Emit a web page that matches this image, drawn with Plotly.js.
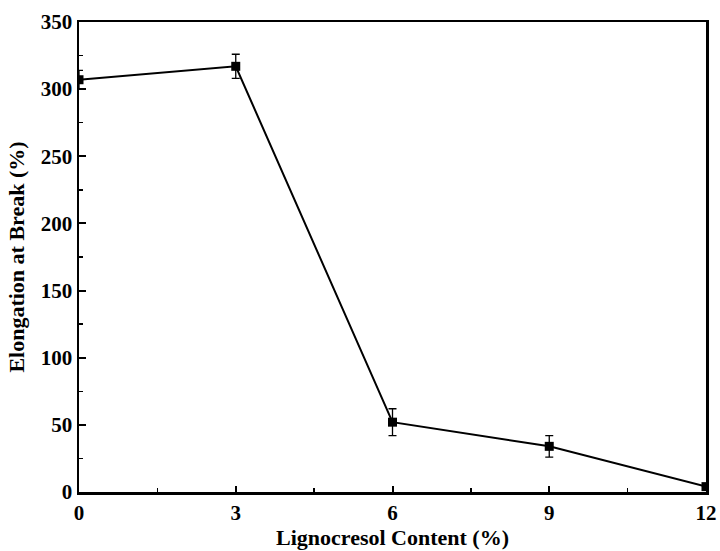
<!DOCTYPE html>
<html>
<head>
<meta charset="utf-8">
<script src="https://cdn.plot.ly/plotly-3.0.1.min.js"></script>
<style>html,body{margin:0;padding:0;background:#fff;}#chart{width:720px;height:551px;}</style>
</head>
<body>
<div id="chart"></div>
<script>
const content = [0, 3, 6, 9, 12];
const elongation = [307, 317, 52, 34, 4];
const errors = [7, 9, 10, 8, 0];
const xTicks = [0, 3, 6, 9, 12];
const yTicks = [0, 50, 100, 150, 200, 250, 300, 350];

const fontFam = '"Liberation Serif", "Times New Roman", serif';

const trace = {
  x: content, y: elongation,
  type: 'scatter', mode: 'lines+markers',
  line: {color: '#000', width: 2},
  marker: {symbol: 'square', size: 9, color: '#000'},
  error_y: {type: 'data', array: errors, visible: true, color: '#000', thickness: 1.3, width: 4},
  showlegend: false
};

const layout = {
  width: 720, height: 551,
  margin: {l: 78.5, r: 13.5, t: 22, b: 59},
  paper_bgcolor: '#fff', plot_bgcolor: '#fff',
  font: {family: fontFam, color: '#000'},
  xaxis: {
    range: [0, 12], tickvals: xTicks, ticktext: xTicks.map(String),
    ticks: 'inside', ticklen: 6, tickwidth: 2, tickcolor: '#000',
    minor: {tickvals: [1.5, 4.5, 7.5, 10.5], ticks: 'inside', ticklen: 4, tickwidth: 1.5, tickcolor: '#000'},
    showline: true, linewidth: 2.5, linecolor: '#000', mirror: true,
    showgrid: false, zeroline: false,
    tickfont: {family: fontFam, size: 21, weight: 'bold'},
    title: {text: '<b>Lignocresol Content (%)</b>', font: {family: fontFam, size: 22}, standoff: 1}
  },
  yaxis: {
    range: [0, 350], tickvals: yTicks, ticktext: yTicks.map(String),
    ticks: 'inside', ticklen: 7, tickwidth: 2, tickcolor: '#000',
    minor: {dtick: 25, tick0: 0, ticks: 'inside', ticklen: 4, tickwidth: 1.5, tickcolor: '#000'},
    showline: true, linewidth: 2.5, linecolor: '#000', mirror: true,
    showgrid: false, zeroline: false,
    tickfont: {family: fontFam, size: 21, weight: 'bold'},
    title: {text: '<b>Elongation at Break (%)</b>', font: {family: fontFam, size: 22}, standoff: 10}
  }
};

Plotly.newPlot('chart', [trace], layout, {displayModeBar: false, staticPlot: true});
</script>
</body>
</html>
